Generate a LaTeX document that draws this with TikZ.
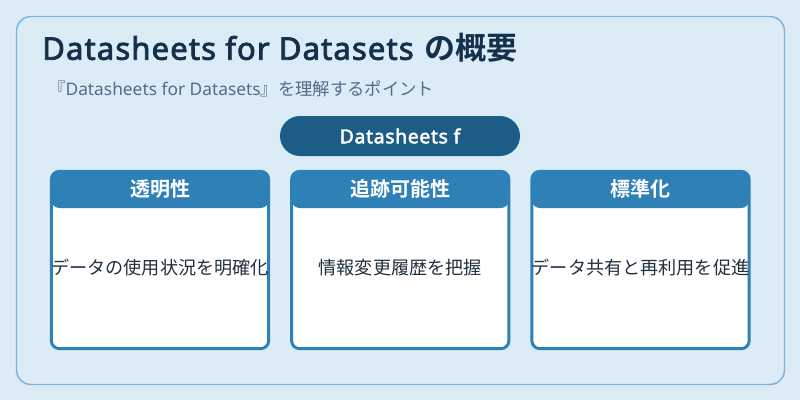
\documentclass[tikz,border=0pt]{standalone}
\usepackage{fontspec}
\setmainfont{Noto Sans CJK JP}
\newfontfamily\jpbold{Noto Sans CJK JP Bold}
\newfontfamily\latin{Noto Sans}
\newfontfamily\latinbold{Noto Sans}[FakeBold=2.5, LetterSpace=3.5]
\usetikzlibrary{positioning}

\definecolor{pagebg}{HTML}{DCECF7}
\definecolor{frameline}{HTML}{7FB2D5}
\definecolor{titleink}{HTML}{15304A}
\definecolor{subink}{HTML}{536D86}
\definecolor{pillblue}{HTML}{1E5C88}
\definecolor{cardblue}{HTML}{2E80B6}
\definecolor{bodyink}{HTML}{20303F}

\begin{document}
\begin{tikzpicture}[x=0.75pt, y=-0.75pt,
		card/.style={draw=cardblue, line width=2.2pt, fill=white, rounded corners=6pt,
			minimum width=163pt, minimum height=133pt, inner sep=0pt,
			path picture={\fill[cardblue] (path picture bounding box.north west) rectangle ([yshift=-27.5pt]path picture bounding box.north east);}},
		cardhead/.style={font=\jpbold\fontsize{15}{17}\selectfont, text=white, inner sep=0pt},
		cardtext/.style={font=\fontsize{13.6}{15}\selectfont, text=bodyink, inner sep=0pt}]
		%Hintergrund
		\fill[pagebg] (0,0) rectangle (800,400);
		\node (frame) [draw=frameline, line width=1.1pt, rounded corners=11pt, minimum width=576pt, minimum height=276pt] at (400.5,200.5) {};
		%Überschrift
		\node (title) [anchor=west, font=\fontsize{23.3}{26}\selectfont, text=titleink, inner sep=0pt] at (42,48) {{\latinbold Datasheets for Datasets}\hspace{8pt}{\jpbold の概要}};
		\node (subtitle) [anchor=west, font=\fontsize{13}{15}\selectfont, text=subink, inner sep=0pt] at (48,89) {『{\latin Datasheets for Datasets}』を理解するポイント};
		\node (pill) [fill=pillblue, rounded corners=15pt, minimum width=180pt, minimum height=30pt, text=white, font=\latinbold\fontsize{14.5}{16}\selectfont] at (400,136) {Datasheets f};
		%Karten
		\node (card1) [card] at (160,260) {};
		\node (head1) [cardhead] at ([yshift=-14pt]card1.north) {透明性};
		\node (text1) [cardtext] at ([yshift=-6pt]card1.center) {データの使用状況を明確化};
		\node (card2) [card, right=15pt of card1] {};
		\node (head2) [cardhead] at ([yshift=-14pt]card2.north) {追跡可能性};
		\node (text2) [cardtext] at ([yshift=-6pt]card2.center) {情報変更履歴を把握};
		\node (card3) [card, right=15pt of card2] {};
		\node (head3) [cardhead] at ([yshift=-14pt]card3.north) {標準化};
		\node (text3) [cardtext] at ([yshift=-6pt]card3.center) {データ共有と再利用を促進};
	\end{tikzpicture}
\end{document}
